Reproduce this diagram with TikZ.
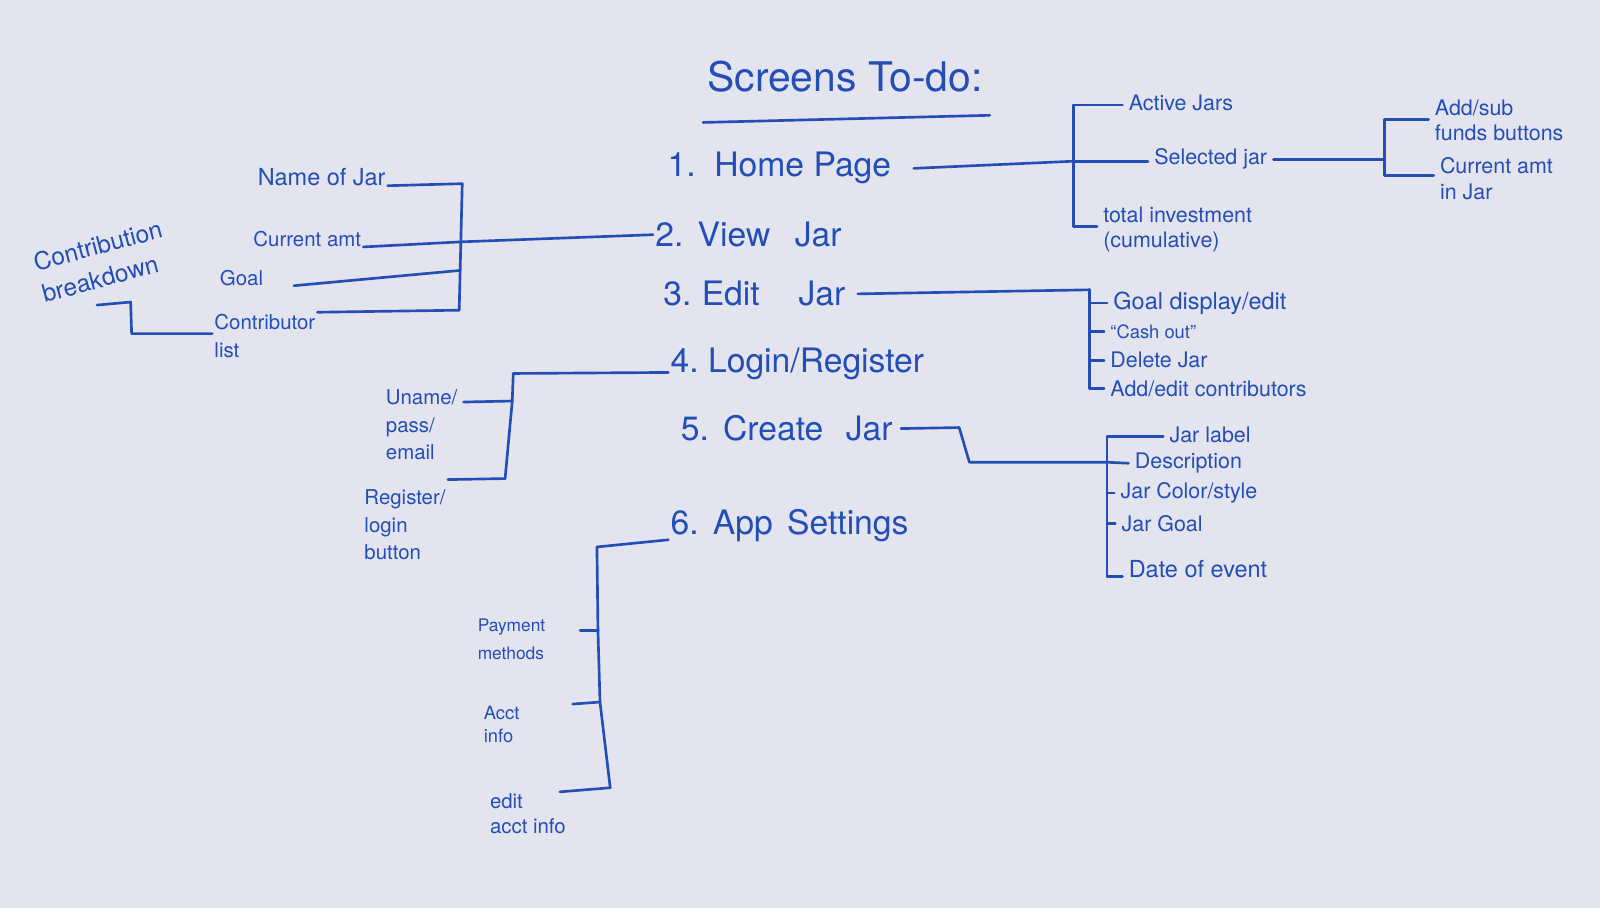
\documentclass[tikz,border=0pt]{standalone}
\usepackage{fontspec}
\setmainfont{TeX Gyre Heros}
\definecolor{ink}{RGB}{35,78,182}
\definecolor{board}{RGB}{227,228,238}
\begin{document}
\begin{tikzpicture}[x=1pt,y=-1pt,
  every node/.style={text=ink},
  titlestyle/.style={font=\fontsize{40}{44}\selectfont},
  item/.style={font=\fontsize{33}{36}\selectfont, inner sep=2pt},
  lab/.style={font=\fontsize{21}{25}\selectfont, align=left, inner sep=6pt},
  sml/.style={font=\fontsize{20}{27}\selectfont, align=left, inner sep=2pt},
  wire/.style={draw=ink, line width=2.6pt, line cap=round, line join=round}
]
\fill[board] (0,0) rectangle (1568,890);
\useasboundingbox (0,0) rectangle (1568,890);

% title
\node[titlestyle] (title) at (828,75) {Screens To-do:};
\draw[wire] (689,120) -- (970,113);

% main items
\node[item, anchor=west] (home) at (652,165) {1.\ \ Home Page};
\node[item, anchor=west] (view) at (640,230) {2.\hspace{14pt}View\hspace{24pt}Jar};
\node[item, anchor=west] (edit) at (648,288) {3.\hspace{10pt}Edit\hspace{38pt}Jar};
\node[item, anchor=west] (login) at (655,357) {4.\ Login/Register};
\node[item, anchor=west] (create) at (665,420) {5.\hspace{14pt}Create\hspace{22pt}Jar};
\node[item, anchor=west] (app) at (655,515) {6.\hspace{14pt}App\hspace{14pt}Settings};

% Home page branch
\coordinate (hT) at (1052,103);
\coordinate (hM) at (1052,158);
\coordinate (hB) at (1052,222);
\node[lab, anchor=west] (active) at (1100,101) {Active Jars};
\node[lab, anchor=west] (selected) at (1125,156) {Selected jar};
\node[lab, anchor=west] (total) at (1075,225) {total investment\\(cumulative)};
\draw[wire] ([xshift=20pt]home.east) -- (hM);
\draw[wire] (hT) -- (hB);
\draw[wire] (hT) -- (hT -| active.west);
\draw[wire] (hM) -- (hM -| selected.west);
\draw[wire] (hB) -- (hB -| total.west);

% Selected jar branch
\coordinate (sT) at (1357,117);
\coordinate (sM) at (1357,156);
\coordinate (sB) at (1357,172);
\node[lab, anchor=west] (addsub) at (1400,118) {Add/sub\\funds buttons};
\node[lab, anchor=west] (curjar) at (1405,175) {Current amt\\in Jar};
\draw[wire] (selected.east) -- (sM);
\draw[wire] (sT) -- (sB);
\draw[wire] (sT) -- (sT -| addsub.west);
\draw[wire] (sB) -- (sB -| curjar.west);

% View Jar bracket
\coordinate (vT) at (453,180);
\coordinate (vM) at (452,237);
\coordinate (vG) at (451,265);
\coordinate (vB) at (450,304);
\node[sml, anchor=base east, font=\fontsize{23}{27}\selectfont] (name) at (380,182) {Name of Jar};
\node[sml, anchor=base east] (curamt) at (356,242) {Current amt};
\node[sml, anchor=base east] (goal) at (260,280) {Goal};
\node[sml, anchor=north west] (contrib) at (208,306) {Contributor\\list};
\draw[wire] (view.west) -- (vM);
\draw[wire] (vT) -- (vB);
\draw[wire] (name.base east) -- (vT);
\draw[wire] (curamt.base east) -- (vM);
\draw[wire] ([xshift=28pt]goal.base east) -- (vG);
\draw[wire] (contrib.north east) -- (vB);

% Contribution breakdown
\node[sml, font=\fontsize{24}{32}\selectfont, rotate=15] (breakdown) at (100,256) {Contribution\\breakdown};
\coordinate (bk) at (95,299);
\coordinate (bk1) at (128,296);
\coordinate (bk2) at (129,327);
\draw[wire] (bk) -- (bk1) -- (bk2) -- (bk2 -| contrib.west);

% Edit Jar branch
\coordinate (eT) at (1068,284);
\coordinate (e1) at (1068,297);
\coordinate (e2) at (1068,325);
\coordinate (e3) at (1068,353);
\coordinate (eB) at (1068,381);
\node[lab, anchor=west, font=\fontsize{23}{27}\selectfont] (goaled) at (1085,297) {Goal display/edit};
\node[lab, anchor=west, font=\fontsize{18}{22}\selectfont] (cash) at (1082,325) {``Cash out''};
\node[lab, anchor=west] (delete) at (1082,353) {Delete Jar};
\node[lab, anchor=west] (addedit) at (1082,381) {Add/edit contributors};
\draw[wire] ([xshift=10pt]edit.east) -- (eT);
\draw[wire] (eT) -- (eB);
\draw[wire] (e1) -- (goaled.west);
\draw[wire] (e2) -- (cash.west);
\draw[wire] (e3) -- (delete.west);
\draw[wire] (eB) -- (addedit.west);

% Login / Register bracket
\coordinate (lT) at (503,366);
\coordinate (lU) at (502,393);
\coordinate (lB) at (495,469);
\node[sml, anchor=north west] (uname) at (376,380) {Uname/\\pass/\\email};
\node[sml, anchor=north west] (register) at (355,478) {Register/\\login\\button};
\draw[wire] ([yshift=-8pt]login.west) -- (lT);
\draw[wire] (lT) -- (lU) -- (lB);
\draw[wire] ([yshift=-14pt, xshift=4pt]uname.north east) -- (lU);
\draw[wire] ([yshift=8pt]register.north east) -- (lB);

% Create Jar branch
\coordinate (c0) at (940,419);
\coordinate (c1) at (950,453);
\coordinate (cT) at (1085,428);
\coordinate (cD) at (1085,453);
\coordinate (cC) at (1085,483);
\coordinate (cG) at (1085,513);
\coordinate (cB) at (1085,565);
\node[lab, anchor=west] (jarlabel) at (1140,426) {Jar label};
\node[lab, anchor=west] (desc) at (1106,454) {Description};
\node[lab, anchor=west] (color) at (1092,483) {Jar Color/style};
\node[lab, anchor=west] (jargoal) at (1093,513) {Jar Goal};
\node[lab, anchor=west, font=\fontsize{23}{27}\selectfont] (date) at (1100,558) {Date of event};
\draw[wire] ([xshift=6pt]create.east) -- (c0) -- (c1) -- (cD);
\draw[wire] (cT) -- (cB);
\draw[wire] (cT) -- (cT -| jarlabel.west);
\draw[wire] (cD) -- (desc.west);
\draw[wire] (cC) -- (color.west);
\draw[wire] (cG) -- (jargoal.west);
\draw[wire] (cB) -- (cB -| date.west);

% App Settings bracket
\coordinate (aT) at (585,536);
\coordinate (aP) at (586,618);
\coordinate (aA) at (588,688);
\coordinate (aB) at (598,772);
\node[sml, anchor=north west, font=\fontsize{17}{28}\selectfont] (pay) at (466,604) {Payment\\methods};
\node[sml, anchor=north west, font=\fontsize{18}{22}\selectfont] (acct) at (472,690) {Acct\\info};
\node[sml, anchor=north west, font=\fontsize{20}{24}\selectfont] (editacct) at (478,776) {edit\\acct info};
\draw[wire] ([yshift=-14pt]app.west) -- (aT);
\draw[wire] (aT) -- (aP) -- (aA) -- (aB);
\draw[wire] ([xshift=32pt,yshift=-14pt]pay.north east) -- (aP);
\draw[wire] ([xshift=50pt]acct.north east) -- (aA);
\draw[wire] ([xshift=-8pt]editacct.north east) -- (aB);
\end{tikzpicture}
\end{document}
